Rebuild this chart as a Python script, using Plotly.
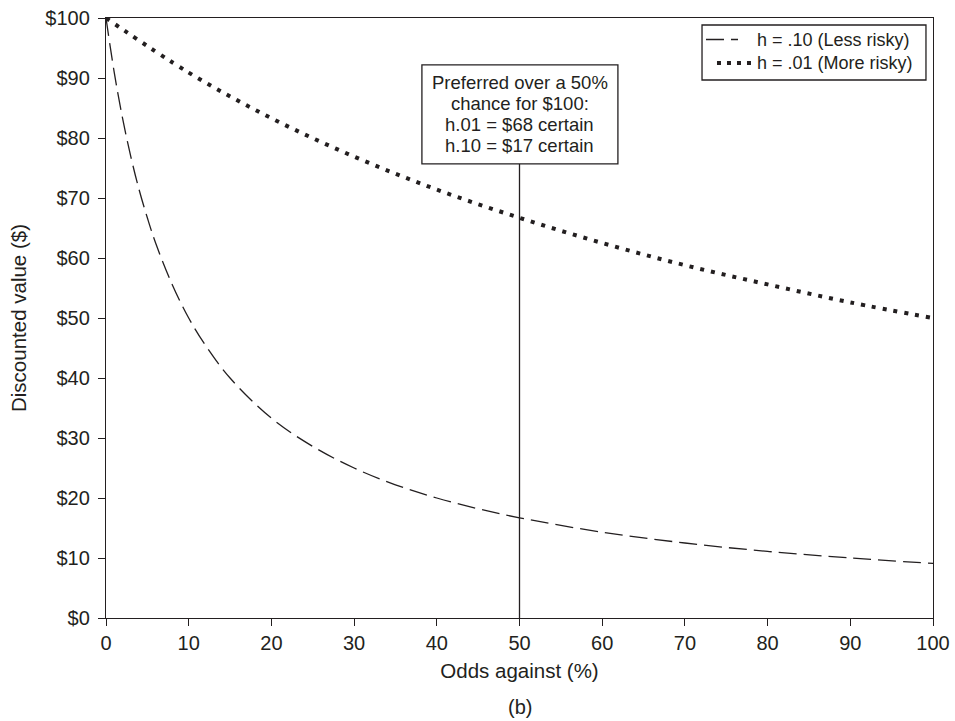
import plotly.graph_objects as go

# Odds against (%) sample points
x_less = [0, 1, 2, 3, 4, 5, 6, 8, 10, 12, 15, 20, 25, 30, 35, 40, 45, 50, 60, 70, 80, 90, 100]
# h = .10 (Less risky) discounted value ($)
v_less = [100, 90.9, 83.3, 76.9, 71.4, 66.7, 62.5, 55.6, 50.0, 45.5, 40.0, 33.3, 28.6, 25.0,
          22.2, 20.0, 18.2, 16.7, 14.3, 12.5, 11.1, 10.0, 9.1]
x_more = [0, 10, 20, 30, 40, 50, 60, 70, 80, 90, 100]
# h = .01 (More risky) discounted value ($)
v_more = [100, 90.9, 83.3, 76.9, 71.4, 66.7, 62.5, 58.8, 55.6, 52.6, 50.0]

names = ["h = .10 (Less risky)", "h = .01 (More risky)"]
x_ticks = list(range(0, 101, 10))
y_ticks = list(range(0, 101, 10))
y_labels = ["$" + str(v) for v in y_ticks]

marker_x = 50
box_lines = ["Preferred over a 50%", "chance for $100:", "h.01 = $68 certain", "h.10 = $17 certain"]

FONT = "Liberation Sans, Arial, Helvetica, sans-serif"
INK = "#231f20"
DASH_LESS = "18px,7px"
DASH_MORE = "4px,7px"

fig = go.Figure()
fig.add_trace(go.Scatter(x=x_less, y=v_less, mode="lines", line_shape="spline",
                         name=names[0], showlegend=False,
                         line=dict(color=INK, width=1.3, dash=DASH_LESS)))
fig.add_trace(go.Scatter(x=x_more, y=v_more, mode="lines", line_shape="spline",
                         name=names[1], showlegend=False,
                         line=dict(color=INK, width=4, dash=DASH_MORE)))

# vertical reference line at 50 up to the text box
box_y0, box_y1 = 75.7, 92.2
box_x0, box_x1 = 38.2, 61.9
fig.add_shape(type="line", x0=marker_x, x1=marker_x, y0=0, y1=box_y0,
              xref="x", yref="y", line=dict(color=INK, width=1.3))
fig.add_shape(type="rect", x0=box_x0, x1=box_x1, y0=box_y0, y1=box_y1,
              xref="x", yref="y", line=dict(color=INK, width=1.3), fillcolor="white")
line_ys = [89.33, 85.83, 82.2, 78.67]
for t, yy in zip(box_lines, line_ys):
    fig.add_annotation(x=marker_x, y=yy, xref="x", yref="y", text=t, showarrow=False,
                       font=dict(family=FONT, size=18.5, color=INK),
                       xanchor="center", yanchor="middle")

# custom legend (box, samples, labels)
row1, row2 = 1 - (39.5 - 18) / 600, 1 - (63 - 18) / 600
fig.add_shape(type="rect", x0=0.7207, x1=0.9915, y0=1 - (80 - 18) / 600, y1=1 - (25 - 18) / 600,
              xref="paper", yref="paper", line=dict(color=INK, width=1.3), fillcolor="white")
fig.add_shape(type="line", x0=0.7255, x1=0.7642, y0=row1, y1=row1,
              xref="paper", yref="paper", line=dict(color=INK, width=1.3, dash=DASH_LESS))
fig.add_shape(type="line", x0=0.7388, x1=0.7800, y0=row2, y1=row2,
              xref="paper", yref="paper", line=dict(color=INK, width=4, dash="4px,6px"))
fig.add_annotation(x=0.7848, y=(row1 + row2) / 2, xref="paper", yref="paper",
                   text="<br>".join(names), showarrow=False, align="left",
                   font=dict(family=FONT, size=18, color=INK),
                   xanchor="left", yanchor="middle")

fig.add_annotation(x=0.5, y=-0.148, xref="paper", yref="paper", text="(b)",
                   showarrow=False, font=dict(family=FONT, size=20, color=INK),
                   yanchor="middle")

fig.update_layout(
    width=955, height=721,
    margin=dict(l=106, r=22, t=18, b=103, autoexpand=False),
    paper_bgcolor="white", plot_bgcolor="white",
    font=dict(family=FONT, size=20, color=INK),
    showlegend=False,
)
fig.update_xaxes(range=[0, 100], tickmode="array", tickvals=x_ticks, automargin=False,
                 ticks="outside", ticklen=7, tickcolor=INK, tickwidth=1.3,
                 showline=True, linecolor=INK, linewidth=1.3, mirror=True,
                 showgrid=False, zeroline=False,
                 tickfont=dict(family=FONT, size=20, color=INK),
                 title=dict(text="Odds against (%)", standoff=10,
                            font=dict(family=FONT, size=20.5, color=INK)))
fig.update_yaxes(range=[0, 100], tickmode="array", tickvals=y_ticks, ticktext=y_labels,
                 automargin=False, ticklabelstandoff=4,
                 ticks="outside", ticklen=7, tickcolor=INK, tickwidth=1.3,
                 showline=True, linecolor=INK, linewidth=1.3, mirror=True,
                 showgrid=False, zeroline=False,
                 tickfont=dict(family=FONT, size=20, color=INK),
                 title=dict(text="Discounted value ($)", standoff=13,
                            font=dict(family=FONT, size=20.5, color=INK)))

fig.write_html("out.html")
